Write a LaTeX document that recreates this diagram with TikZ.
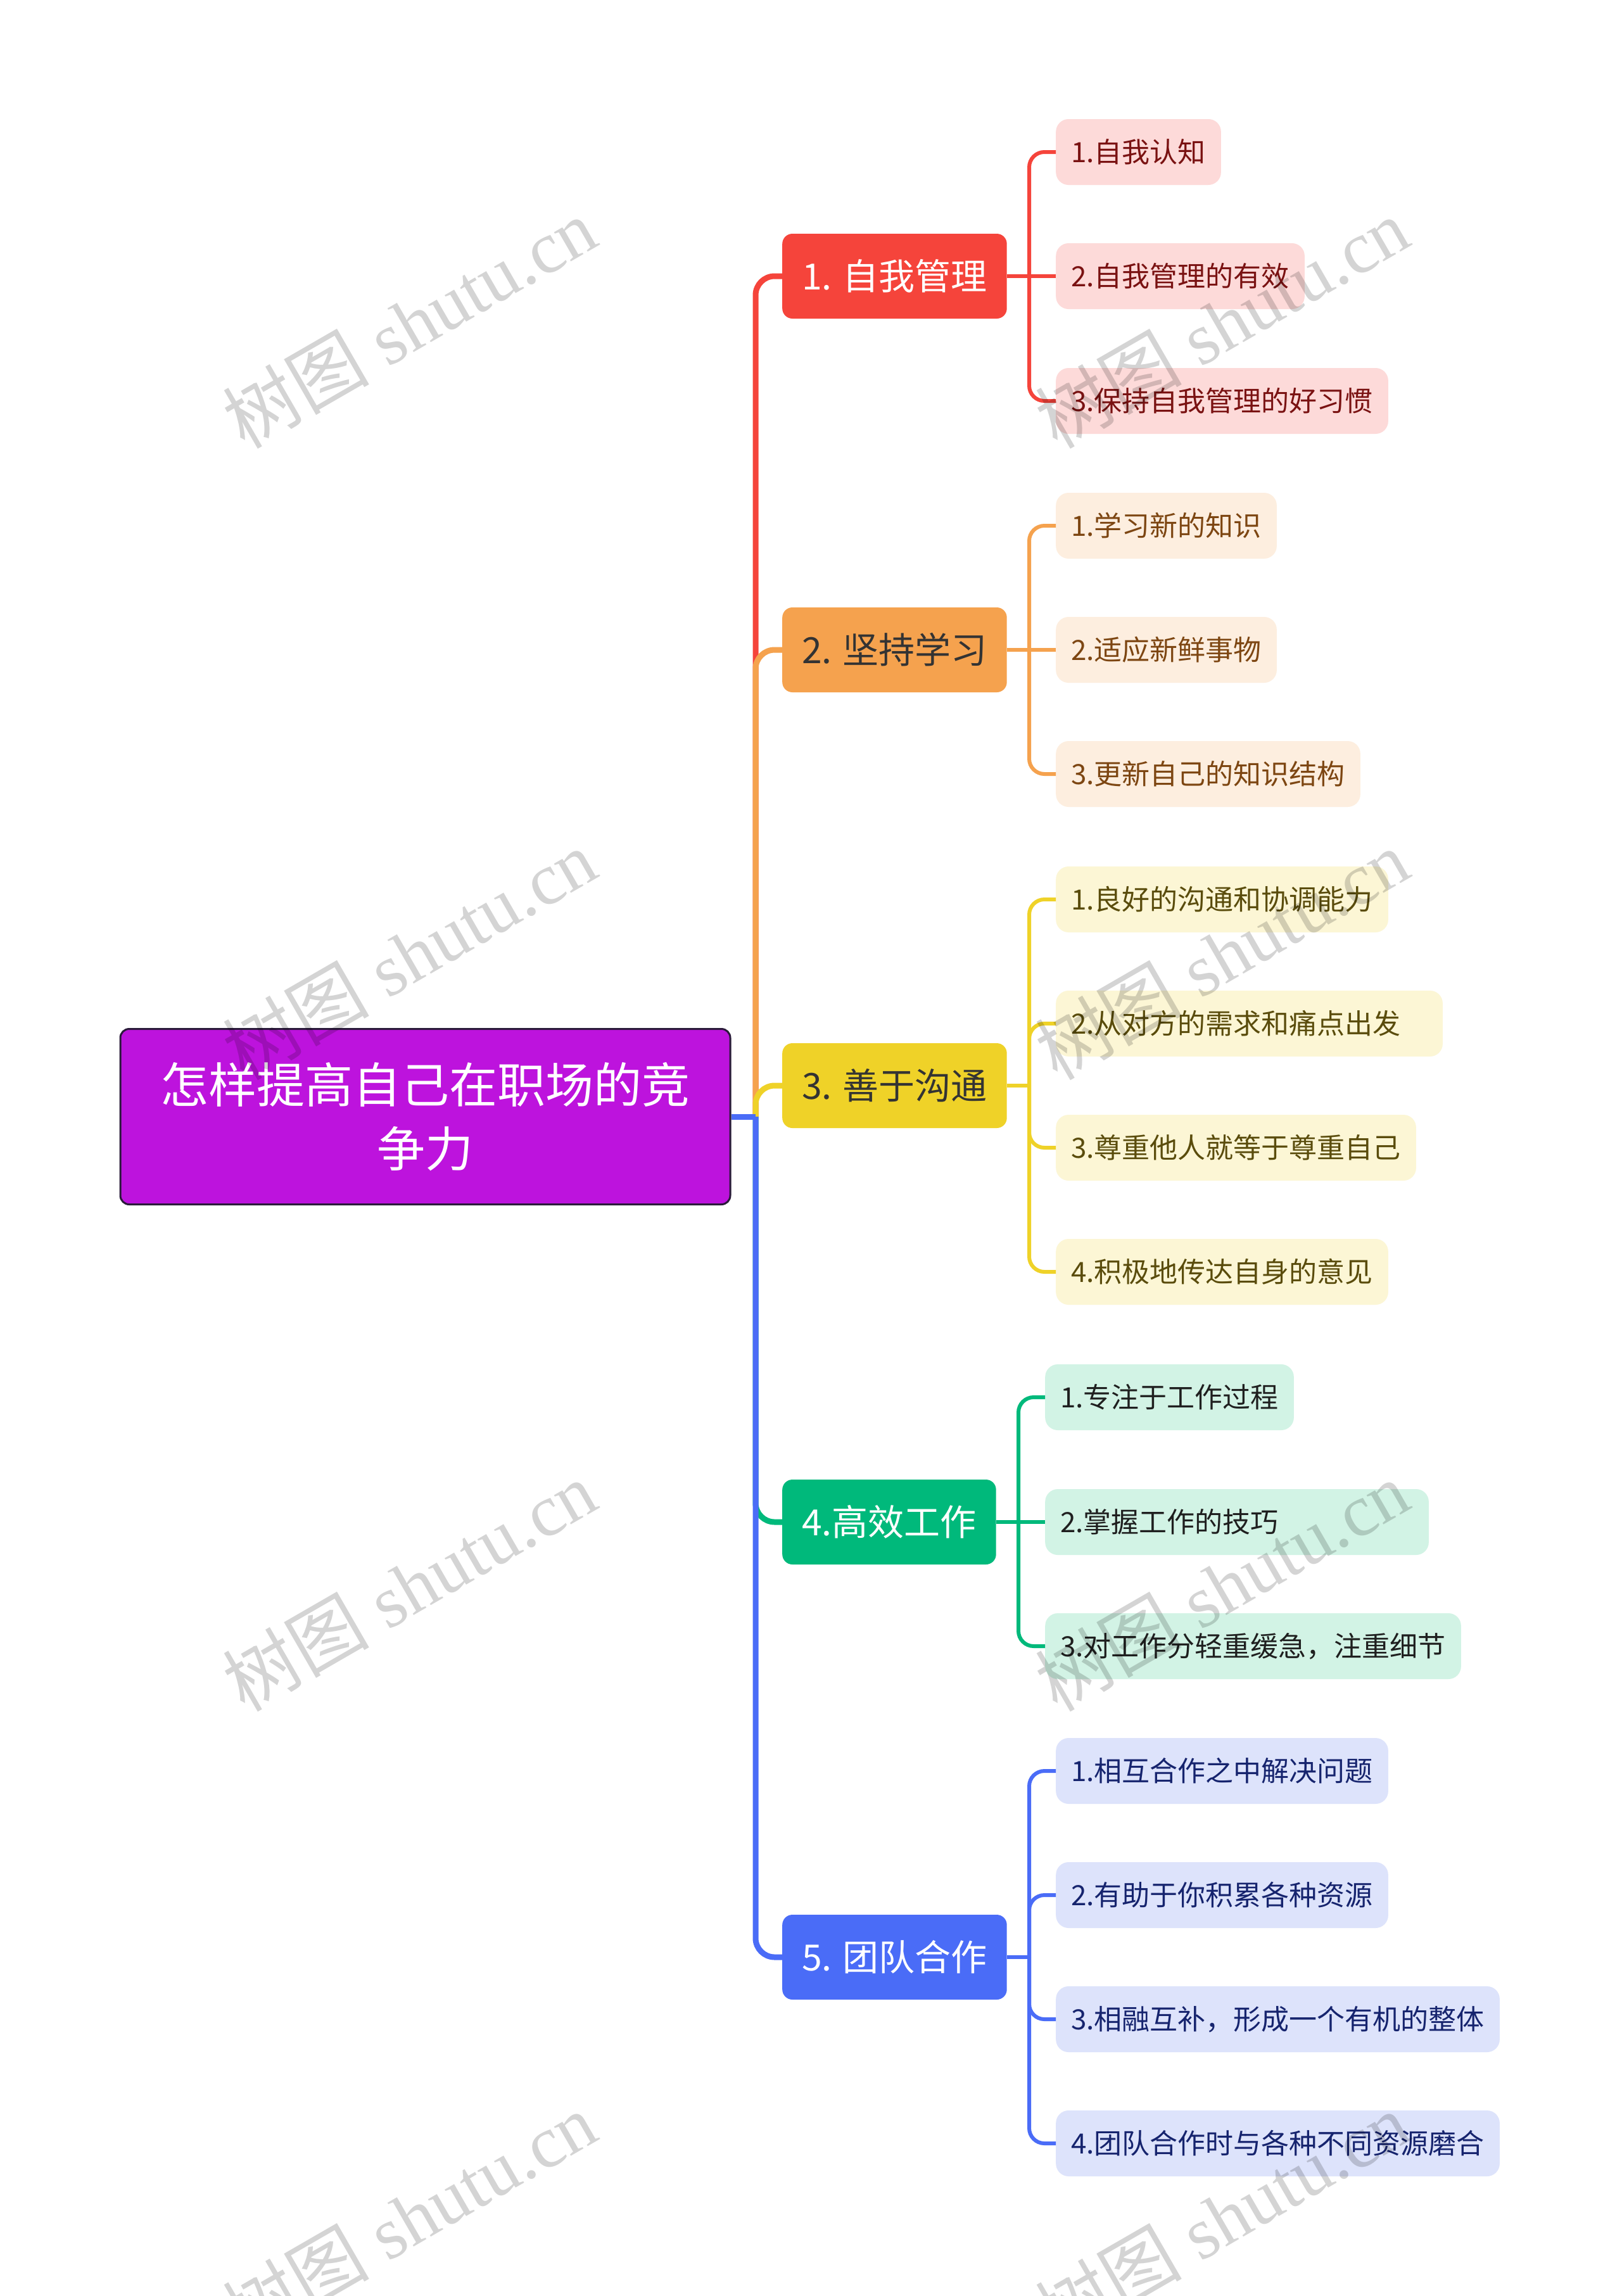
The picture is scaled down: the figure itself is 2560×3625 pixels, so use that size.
\documentclass[tikz,border=0pt]{standalone}
\usepackage{fontspec}
\setmainfont{Noto Sans CJK SC}
\newfontfamily\wmserif{Liberation Serif}
\newfontfamily\wmcjk{Noto Sans CJK SC}
\definecolor{rootc}{HTML}{BD13DD}
\definecolor{rootb}{HTML}{2A1A3A}
\definecolor{dk}{HTML}{333333}
\definecolor{c1}{HTML}{F5443B}\definecolor{l1}{HTML}{FDDAD9}\definecolor{t1}{HTML}{7A1212}
\definecolor{c2}{HTML}{F5A24E}\definecolor{l2}{HTML}{FDEEDF}\definecolor{t2}{HTML}{7D4612}
\definecolor{c3}{HTML}{EFD228}\definecolor{l3}{HTML}{FCF6D5}\definecolor{t3}{HTML}{5A4C0C}
\definecolor{c4}{HTML}{00B97B}\definecolor{l4}{HTML}{D2F3E5}\definecolor{t4}{HTML}{1F1F1F}
\definecolor{c5}{HTML}{4A6CF7}\definecolor{l5}{HTML}{DDE3FB}\definecolor{t5}{HTML}{16246E}
\tikzset{
  rootbox/.style={fill=rootc, draw=rootb, line width=3pt, rounded corners=14pt,
    minimum width=963pt, minimum height=277pt, align=center, text=white,
    font=\fontsize{76}{101}\selectfont},
  branchbox/.style={rounded corners=16pt, minimum height=134pt, inner xsep=31pt,
    inner ysep=0pt, anchor=west, font=\fontsize{57}{68}\selectfont,
    text height=50pt, text depth=7pt},
  leafbox/.style={rounded corners=20pt, minimum height=104pt, inner xsep=24pt,
    inner ysep=0pt, anchor=west, font=\fontsize{44}{52}\selectfont,
    text height=38.5pt, text depth=5.5pt},
  trunk/.style={line width=9pt, rounded corners=30pt},
  twig/.style={line width=6pt, rounded corners=24pt},
  wm/.style={rotate=30, text=black, text opacity=0.17, font=\fontsize{116}{116}\wmserif}
}
\begin{document}
\begin{tikzpicture}[x=1pt,y=-1pt]
\fill[white] (0,0) rectangle (2560,3625);
\useasboundingbox (0,0) rectangle (2560,3625);

\node[rootbox] (root) at (671.5,1763) {怎样提高自己在职场的竞\\争力};

\node[branchbox, fill=c1, text=white] (b1) at (1235,436) {1. 自我管理};
\node[branchbox, fill=c2, text=dk] (b2) at (1235,1026) {2. 坚持学习};
\node[branchbox, fill=c3, text=dk] (b3) at (1235,1714) {3. 善于沟通};
\node[branchbox, fill=c4, text=white] (b4) at (1235,2403) {4.高效工作};
\node[branchbox, fill=c5, text=white] (b5) at (1235,3090) {5. 团队合作};

\node[leafbox, fill=l1, text=t1] (l11) at (1667,240) {1.自我认知};
\node[leafbox, fill=l1, text=t1] (l12) at (1667,436) {2.自我管理的有效};
\node[leafbox, fill=l1, text=t1] (l13) at (1667,633) {3.保持自我管理的好习惯};

\node[leafbox, fill=l2, text=t2] (l21) at (1667,830) {1.学习新的知识};
\node[leafbox, fill=l2, text=t2] (l22) at (1667,1026) {2.适应新鲜事物};
\node[leafbox, fill=l2, text=t2] (l23) at (1667,1222) {3.更新自己的知识结构};

\node[leafbox, fill=l3, text=t3] (l31) at (1667,1420) {1.良好的沟通和协调能力};
\node[leafbox, fill=l3, text=t3] (l32) at (1667,1616) {2.从对方的需求和痛点出发\hspace*{42pt}};
\node[leafbox, fill=l3, text=t3] (l33) at (1667,1812) {3.尊重他人就等于尊重自己};
\node[leafbox, fill=l3, text=t3] (l34) at (1667,2008) {4.积极地传达自身的意见};

\node[leafbox, fill=l4, text=t4] (l41) at (1650,2206) {1.专注于工作过程};
\node[leafbox, fill=l4, text=t4] (l42) at (1650,2403) {2.掌握工作的技巧\hspace*{213pt}};
\node[leafbox, fill=l4, text=t4] (l43) at (1650,2599) {3.对工作分轻重缓急，注重细节};

\node[leafbox, fill=l5, text=t5] (l51) at (1667,2796) {1.相互合作之中解决问题};
\node[leafbox, fill=l5, text=t5] (l52) at (1667,2992) {2.有助于你积累各种资源};
\node[leafbox, fill=l5, text=t5] (l53) at (1667,3188) {3.相融互补，形成一个有机的整体};
\node[leafbox, fill=l5, text=t5] (l54) at (1667,3384) {4.团队合作时与各种不同资源磨合};

% junctions
\coordinate (J) at (1193,1763);
\coordinate (K1) at (1625,436);
\coordinate (K2) at (1625,1026);
\coordinate (K3) at (1625,1714);
\coordinate (K4) at (1608,2403);
\coordinate (K5) at (1625,3090);

% trunk connectors
\draw[trunk, c1] (J) |- (b1.west);
\draw[trunk, c2] (J) |- (b2.west);
\draw[trunk, c3] (J) |- (b3.west);
\draw[trunk, c4] (J) |- (b4.west);
\draw[trunk, c5] (J) |- (b5.west);
\draw[line width=9pt, c5] (root.east) -- (J);

% leaf connectors
\draw[twig, c1] (b1.east) -- (l12.west);
\draw[twig, c1] (K1) |- (l11.west);
\draw[twig, c1] (K1) |- (l13.west);

\draw[twig, c2] (b2.east) -- (l22.west);
\draw[twig, c2] (K2) |- (l21.west);
\draw[twig, c2] (K2) |- (l23.west);

\draw[twig, c3] (b3.east) -- (K3);
\draw[twig, c3] (K3) |- (l31.west);
\draw[twig, c3] (K3) |- (l32.west);
\draw[twig, c3] (K3) |- (l33.west);
\draw[twig, c3] (K3) |- (l34.west);

\draw[twig, c4] (b4.east) -- (l42.west);
\draw[twig, c4] (K4) |- (l41.west);
\draw[twig, c4] (K4) |- (l43.west);

\draw[twig, c5] (b5.east) -- (K5);
\draw[twig, c5] (K5) |- (l51.west);
\draw[twig, c5] (K5) |- (l52.west);
\draw[twig, c5] (K5) |- (l53.west);
\draw[twig, c5] (K5) |- (l54.west);

% watermarks
\foreach \y [count=\i] in {510,1507,2504,3501} {
  \node[wm] (wmL\i) at (646,\y) {{\wmcjk 树图} shutu.cn};
  \node[wm] (wmR\i) at (1929,\y) {{\wmcjk 树图} shutu.cn};
}
\end{tikzpicture}
\end{document}
